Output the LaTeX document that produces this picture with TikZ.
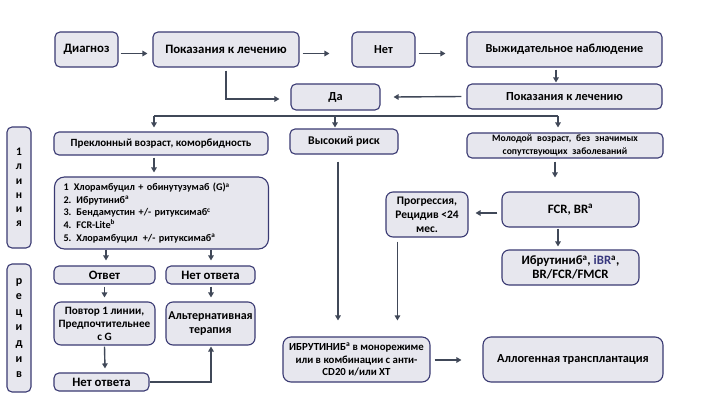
\documentclass[tikz,border=0pt]{standalone}
\usepackage{fontspec}
\setmainfont{Carlito}
\usetikzlibrary{arrows.meta,calc}
\definecolor{boxfill}{RGB}{231,231,238}
\definecolor{boxdraw}{RGB}{58,58,115}
\definecolor{arrcol}{RGB}{64,72,88}
\definecolor{ibrblue}{RGB}{55,55,125}
\tikzset{
  box/.style={draw=boxdraw, fill=boxfill, line width=1.1pt, rounded corners=5pt,
    align=center, inner sep=1pt, font=\bfseries\fontsize{12.3}{14}\selectfont},
  arr/.style={draw=arrcol, line width=1.4pt, -{Triangle[length=5pt,width=5.5pt]}},
  ln/.style={draw=arrcol, line width=1.4pt},
}
\begin{document}
\begin{tikzpicture}[x=1pt,y=-1pt]
\fill[white] (0,0) rectangle (726,408);
\useasboundingbox (0,0) rectangle (726,408);

% top row
\node[box, minimum width=63pt, minimum height=35pt, font=\bfseries\fontsize{12.8}{14}\selectfont] (diag) at (86.5,49.5) {Диагноз};
\node[box, minimum width=146pt, minimum height=35pt, font=\bfseries\fontsize{12.8}{14}\selectfont] (pok1) at (226,49.5) {Показания к лечению};
\node[box, minimum width=63pt, minimum height=35pt] (net) at (383.5,49.5) {Нет};
\node[box, minimum width=195pt, minimum height=35pt] (wait) at (564.5,49.5) {Выжидательное наблюдение};
\node[box, minimum width=195pt, minimum height=25pt] (pok2) at (564.5,96.5) {Показания к лечению};
\node[box, minimum width=89pt, minimum height=26pt] (da) at (335.5,97) {Да};

% side labels
\node[box, minimum width=24pt, minimum height=121pt, font=\bfseries\fontsize{11.5}{14.3}\selectfont] (lin) at (19,187.5) {1\\л\\и\\н\\и\\я};
\node[box, minimum width=24pt, minimum height=128pt, font=\bfseries\fontsize{12}{15.6}\selectfont] (rec) at (19,328) {р\\е\\ц\\и\\д\\и\\в};

% branch row
\node[box, minimum width=214pt, minimum height=23pt, font=\bfseries\fontsize{11}{12}\selectfont] (prek) at (161,143.5) {Преклонный возраст, коморбидность};
\node[box, minimum width=108pt, minimum height=25pt, font=\bfseries\fontsize{11.8}{14}\selectfont] (high) at (344,141.5) {Высокий риск};
\node[box, minimum width=196pt, minimum height=25pt, font=\bfseries\fontsize{9.7}{13}\selectfont] (young) at (565,145.5) {Молодой\enspace возраст,\enspace без\enspace значимых\\сопутствующих\enspace заболеваний};

% left column
\node[box, rounded corners=10pt, text width=196pt, inner xsep=9pt, minimum height=72pt, align=left,
  font=\bfseries\fontsize{10.2}{12.65}\selectfont] (list) at (161.5,213) {%
1\enspace Хлорамбуцил + обинутузумаб (G)\textsuperscript{a}\\
2. Ибрутиниб\textsuperscript{a}\\
3. Бендамустин +/- ритуксимаб\textsuperscript{c}\\
4. FCR-Lite\textsuperscript{b}\\
5. Хлорамбуцил\enspace+/- ритуксимаб\textsuperscript{a}};
\node[box, minimum width=101pt, minimum height=18pt, font=\bfseries\fontsize{12.8}{14}\selectfont] (otv) at (104.5,275) {Ответ};
\node[box, minimum width=89pt, minimum height=18pt, font=\bfseries\fontsize{12.8}{14}\selectfont] (nr1) at (210.5,275) {Нет ответа};
\node[box, rounded corners=7pt, minimum width=101pt, minimum height=43pt, font=\bfseries\fontsize{11.2}{13}\selectfont] (povt) at (104.5,323.5) {Повтор 1 линии,\\Предпочтительнее\\с G};
\node[box, rounded corners=7pt, minimum width=89pt, minimum height=43pt, font=\bfseries\fontsize{12}{13.5}\selectfont] (alt) at (210.5,323.5) {Альтернативная\\терапия};
\node[box, minimum width=95pt, minimum height=18pt, font=\bfseries\fontsize{12.8}{14}\selectfont] (nr2) at (101.5,382) {Нет ответа};

% right column
\node[box, rounded corners=7pt, minimum width=137pt, minimum height=35pt, font=\bfseries\fontsize{12.8}{14}\selectfont] (fcr) at (570.5,209.5) {FCR, BR\textsuperscript{a}};
\node[box, rounded corners=7pt, minimum width=82pt, minimum height=45pt, font=\bfseries\fontsize{11.5}{14}\selectfont] (prog) at (427,214.5) {Прогрессия,\\Рецидив <24\\мес.};
\node[box, rounded corners=7pt, minimum width=137pt, minimum height=35pt, font=\bfseries\fontsize{12.8}{14}\selectfont] (ibr) at (570.5,267.5) {Ибрутиниб\textsuperscript{a}, {\color{ibrblue}iBR}\textsuperscript{a},\\BR/FCR/FMCR};

% bottom row
\node[box, rounded corners=8pt, minimum width=147pt, minimum height=45pt, font=\bfseries\fontsize{10.8}{12.5}\selectfont] (mono) at (356.5,359.5) {ИБРУТИНИБ\textsuperscript{a} в монорежиме\\или в комбинации с анти-\\CD20 и/или ХТ};
\node[box, rounded corners=8pt, minimum width=180pt, minimum height=45pt, font=\bfseries\fontsize{12.3}{14}\selectfont] (allo) at (573,359.5) {Аллогенная трансплантация};

% connectors top
\draw[arr] ($(diag.east)+(2,4)$) -- ($(pok1.west)+(-5,4)$);
\draw[arr] ($(pok1.east)+(3,4)$) -- ($(net.west)+(-22,4)$);
\draw[arr] ($(net.east)+(3,4)$) -- ($(wait.west)+(-21,4)$);
\draw[arr] ($(wait.south)+(-8.5,2)$) -- ($(pok2.north)+(-8.5,-1)$);
\draw[arr] ($(pok2.west)+(-5,0)$) -- ($(da.east)+(13,0)$);
\draw[arr] ($(pok1.south)+(0,3)$) |- ($(da.west)+(-11,2)$);

% distribution
\coordinate (sL) at (154,116);
\coordinate (sM) at (335,116);
\coordinate (sR) at (558,116);
\draw[ln] (sL) -- (sR);
\draw[arr] (sL) -- ($(sL |- prek.north)+(0,-4)$);
\draw[arr] (sM) -- ($(sM |- high.north)+(0,-1)$);
\draw[arr] (sR) -- ($(sR |- young.north)+(0,-5)$);

% left column connectors
\draw[arr] ($(prek.south)+(-7,2)$) -- ($(list.north)+(-7.5,-4)$);
\coordinate (la) at ($(list.south -| otv.north)+(1.5,0)$);
\coordinate (lb) at ($(list.south -| nr1.north)+(0.5,0)$);
\draw[arr] (la) -- ($(la |- otv.north)+(0,-5)$);
\draw[arr] (lb) -- ($(lb |- nr1.north)+(0,-5)$);
\draw[arr] ($(otv.south)+(0,2)$) -- ($(povt.north)+(0,-4)$);
\draw[arr] ($(nr1.south)+(0.5,2)$) -- ($(alt.north)+(0.5,-4)$);
\draw[arr] ($(povt.south)+(0,1)$) -- ($(nr2.north)+(3.5,-4)$);
\draw[arr] (nr2.east) -| ($(alt.south)+(0.5,1)$);

% right side connectors
\draw[arr] ($(young.south)+(-10,3)$) -- ($(fcr.north)+(-15.5,-14)$);
\draw[arr] ($(fcr.west)+(-4,3.5)$) -- ($(prog.east)+(7,-1.5)$);
\draw[arr] ($(fcr.south)+(-12.5,1)$) -- ($(ibr.north)+(-12.5,-3)$);
\coordinate (h1) at ($(high.south)+(-6,7)$);
\coordinate (p1) at ($(prog.south west)+(12,4)$);
\draw[arr] (h1) -- ($(h1 |- mono.north)+(0,-16)$);
\draw[arr] (p1) -- ($(p1 |- mono.north)+(0,-16)$);
\draw[arr] ($(mono.east)+(4,0.5)$) -- ($(allo.west)+(-21,0.5)$);
\end{tikzpicture}
\end{document}
